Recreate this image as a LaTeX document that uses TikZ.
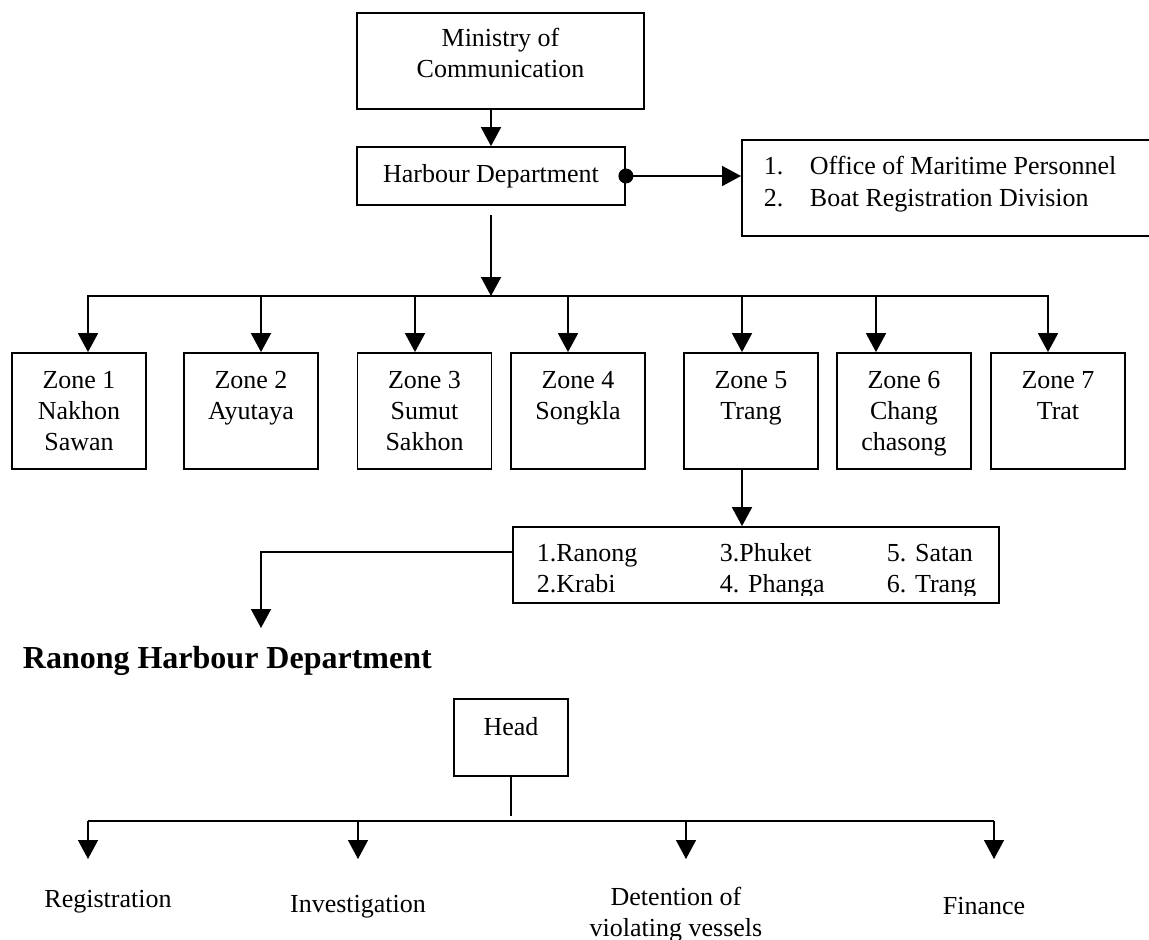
\documentclass[tikz,border=0pt]{standalone}
\usepackage{fontspec}
\setmainfont{Liberation Serif}
\usetikzlibrary{arrows.meta}
\begin{document}
\begin{tikzpicture}[x=1pt,y=-1pt,
  line width=1.8pt,
  arr/.style={-{Triangle[width=20pt,length=19pt]}},
  box/.style={draw, inner sep=0pt},
  txt/.style={font=\fontsize{26}{31}\selectfont, align=center, inner sep=0pt},
  zone/.style={box, txt, minimum width=134pt, minimum height=116pt},
  lft/.style={txt, anchor=base west},
]
\clip (0,0) rectangle (1149,940);
\fill[white] (0,0) rectangle (1149,940);

% top part
\node[box, minimum width=287pt, minimum height=96pt] (min) at (500.5,61) {};
\node[txt] (mint) at (500.5,52.6) {Ministry of\\Communication};
\node[box, txt, minimum width=268pt, minimum height=58pt] (hd) at (491,176) {Harbour Department};
\draw[arr] (hd.north |- min.south) -- (hd.north);

\node[box, anchor=north west, minimum width=430pt, minimum height=96pt] (rb) at (741,139) {};
\node[lft] (r1n) at (763,174) {1.};
\node[lft] (r1t) at (809,174) {Office of Maritime Personnel};
\node[lft] (r2n) at (763,206) {2.};
\node[lft] (r2t) at (809,206) {Boat Registration Division};
\fill (hd.east) circle (7.5pt);
\draw[arr] (hd.east) -- (rb.west |- hd.east);

% zones
\node[zone] (z1) at (79,411) {Zone 1\\Nakhon\\Sawan};
\node[zone] (z2) at (251,411) {Zone 2\\Ayutaya\\~};
\node[zone] (z3) at (424.5,411) {Zone 3\\Sumut\\Sakhon};
\node[zone] (z4) at (578,411) {Zone 4\\Songkla\\~};
\node[zone] (z5) at (751,411) {Zone 5\\Trang\\~};
\node[zone] (z6) at (904,411) {Zone 6\\Chang\\\smash{chasong}};
\node[zone] (z7) at (1058,411) {Zone 7\\Trat\\~};

\coordinate (hdout) at (491,215);
\coordinate (b0) at (491,296);
\coordinate (b1) at (88,296);
\coordinate (b2) at (261,296);
\coordinate (b3) at (415,296);
\coordinate (b4) at (568,296);
\coordinate (b5) at (742,296);
\coordinate (b6) at (876,296);
\coordinate (b7) at (1048,296);
\draw[arr] (hdout) -- (b0);
\draw[arr] (b4) -- (b1) -- (b1 |- z1.north);
\draw[arr] (b4) -- (b7) -- (b7 |- z7.north);
\draw[arr] (b2) -- (b2 |- z2.north);
\draw[arr] (b3) -- (b3 |- z3.north);
\draw[arr] (b4) -- (b4 |- z4.north);
\draw[arr] (b5) -- (b5 |- z5.north);
\draw[arr] (b6) -- (b6 |- z6.north);

% provinces
\node[box, minimum width=486pt, minimum height=76pt] (pr) at (756,565) {};
\draw[arr] (b5 |- z5.south) -- (b5 |- pr.north);
\begin{scope}
\clip (513,527) rectangle (999,595);
\node[lft] (p1) at (536,561) {1.Ranong};
\node[lft] (p2) at (536,592) {2.Krabi};
\node[lft] (p3) at (719,561) {3.Phuket};
\node[lft] (p4) at (719,592) {4. Phanga};
\node[lft] (p5) at (886,561) {5. Satan};
\node[lft] (p6) at (886,592) {6. Trang};
\end{scope}

\node[font=\bfseries\fontsize{32}{37}\selectfont, anchor=base west, inner sep=0pt] (rhd) at (22,668) {Ranong Harbour Department};
\coordinate (t1) at (261,552);
\coordinate (t2) at (261,628);
\draw[arr] (pr.west |- t1) -- (t1) -- (t2);

% Ranong structure
\node[box, minimum width=114pt, minimum height=77pt] (head) at (511,737.5) {};
\node[txt, anchor=base] (headt) at (511,735) {Head};
\coordinate (hl) at (511,816);
\draw[line width=1.3pt] (head.south) -- (hl);

\coordinate (c1) at (88,821);
\coordinate (c2) at (358,821);
\coordinate (c3) at (686,821);
\coordinate (c4) at (994,821);
\coordinate (e1) at (88,859);
\coordinate (e2) at (358,859);
\coordinate (e3) at (686,859);
\coordinate (e4) at (994,859);
\draw[line width=1.8pt] (c1) -- (c4);
\draw[arr, line width=1.4pt] (c1) -- (e1);
\draw[arr, line width=1.4pt] (c2) -- (e2);
\draw[arr, line width=1.4pt] (c3) -- (e3);
\draw[arr, line width=1.4pt] (c4) -- (e4);

\node[txt] (reg) at (108,902) {Registration};
\node[txt] (inv) at (358,907) {Investigation};
\node[txt] (det) at (676,915) {Detention of\\violating vessels};
\node[txt] (fin) at (984,906) {Finance};
\end{tikzpicture}
\end{document}
